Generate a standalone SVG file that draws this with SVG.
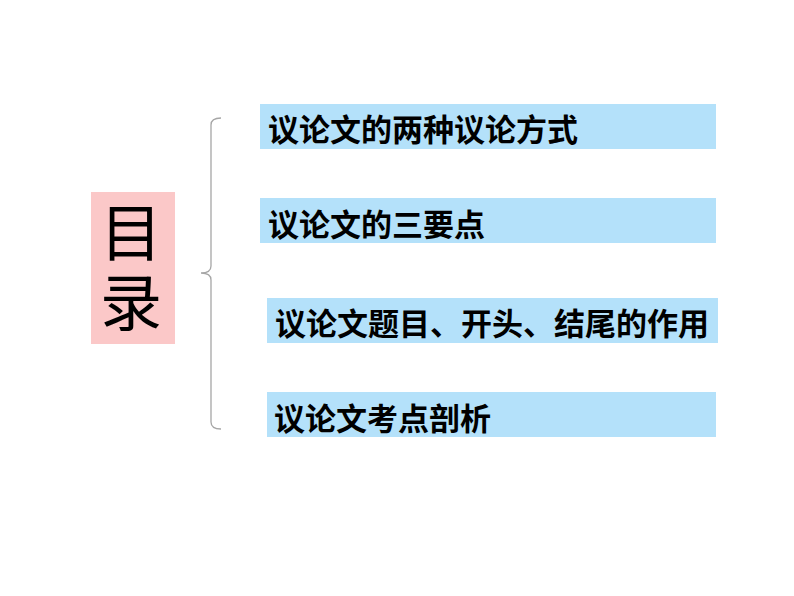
<svg xmlns="http://www.w3.org/2000/svg" width="794" height="596" viewBox="0 0 794 596">
<style>
.box{fill:#b4e1fa}
.t{font-family:"Noto Sans CJK SC","Noto Sans",sans-serif;font-size:31px;font-weight:bold;fill:#000}
.big{font-family:"Noto Sans CJK SC","Noto Sans",sans-serif;font-size:62px;fill:#000;writing-mode:vertical-rl;letter-spacing:8px}
.brace{fill:none;stroke:#a6a6a6;stroke-width:1.3}
</style>
<rect width="794" height="596" fill="#fff"/>
<g id="title">
<rect x="91" y="192" width="84" height="152" fill="#fbc8c8"/>
<text class="big" x="131" y="201">目录</text>
</g>
<g id="connectors">
<path class="brace" d="M221,118 Q211,118 211,125 L211,266 Q211,273 201,273 Q211,273 211,280 L211,422 Q211,429 221,429"/>
</g>
<g id="item1">
<rect class="box" x="260" y="104" width="456" height="45"/>
<text class="t" x="268" y="141">议论文的两种议论方式</text>
</g>
<g id="item2">
<rect class="box" x="260" y="198" width="456" height="45"/>
<text class="t" x="268" y="236">议论文的三要点</text>
</g>
<g id="item3">
<rect class="box" x="267" y="298" width="451" height="45"/>
<text class="t" x="275" y="335">议论文题目、开头、结尾的作用</text>
</g>
<g id="item4">
<rect class="box" x="267" y="392" width="449" height="45"/>
<text class="t" x="274" y="430">议论文考点剖析</text>
</g>
</svg>
